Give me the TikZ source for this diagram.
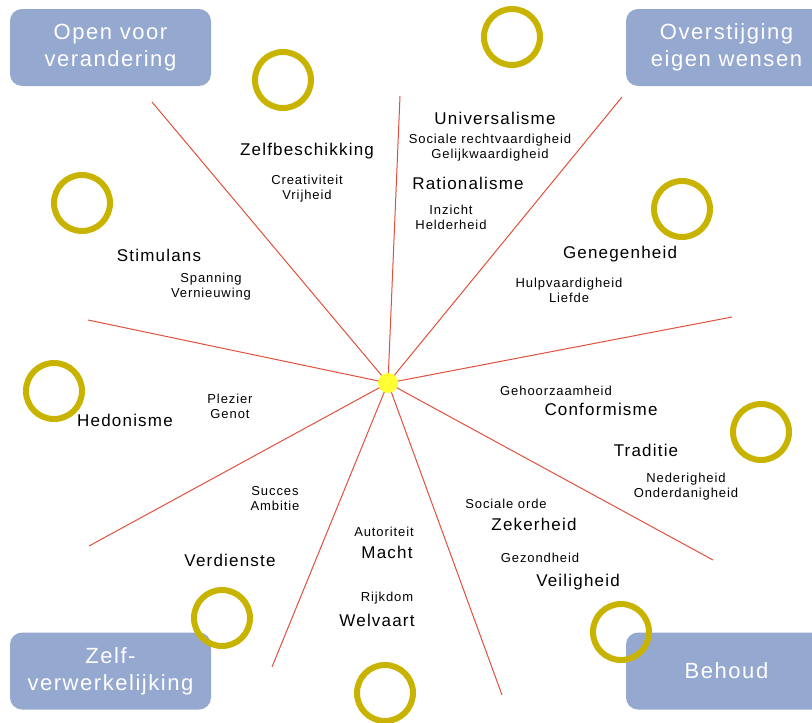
\documentclass[tikz,border=0pt]{standalone}
\usepackage{fontspec}
\setmainfont{Liberation Sans}[LetterSpace=7]
\definecolor{boxc}{HTML}{95A8CF}
\definecolor{ringc}{HTML}{C8B400}
\definecolor{linec}{HTML}{E0503C}
\definecolor{sunc}{HTML}{FFFF33}
\tikzset{
  big/.style={font=\fontsize{17}{20}\selectfont, inner sep=0pt, text=black},
  small/.style={font=\fontsize{13}{15}\selectfont, align=center, inner sep=0pt, text=black},
  catbox/.style={fill=boxc, rounded corners=12pt, text=white, font=\fontsize{22}{27}\selectfont, align=center, minimum width=201pt, minimum height=77pt, inner sep=0pt},
  ring/.style={circle, draw=ringc, line width=6pt, minimum size=56pt, inner sep=0pt},
  ray/.style={draw=linec, line width=1pt},
  sun/.style={circle, fill=sunc, minimum size=20pt, inner sep=0pt}
}
\begin{document}
\begin{tikzpicture}[x=1pt,y=-1pt]
\useasboundingbox (0,0) rectangle (812,723);
\clip (0,0) rectangle (812,723);
% boxes
\node[catbox] (b1) at (110.5,47.5) {Open voor\\verandering};
\node[catbox] (b2) at (726.5,47.5) {Overstijging\\eigen wensen};
\node[catbox] (b3) at (110.5,671) {Zelf-\\verwerkelijking};
\node[catbox] (b4) at (726.5,671) {Behoud};
% rays
\coordinate (c) at (388,383);
\coordinate (e1) at (152,102);
\coordinate (e2) at (400,96);
\coordinate (e3) at (622,97);
\coordinate (e4) at (732,317);
\coordinate (e5) at (713,560);
\coordinate (e6) at (502,695);
\coordinate (e7) at (272,667);
\coordinate (e8) at (89,546);
\coordinate (e9) at (88,320);
\foreach \e in {e1,e2,e3,e4,e5,e6,e7,e8,e9} \draw[ray] (c) -- (\e);
\node[sun] (s) at (c) {};
% rings
\node[ring] (r1) at (283,80) {};
\node[ring] (r2) at (512,37) {};
\node[ring] (r3) at (82,203) {};
\node[ring] (r4) at (682,209) {};
\node[ring] (r5) at (54,391) {};
\node[ring] (r6) at (761,432) {};
\node[ring] (r7) at (222,618) {};
\node[ring] (r8) at (621,632) {};
\node[ring] (r9) at (385,693) {};
% labels
\node[big] (l1) at (307,151) {Zelfbeschikking};
\node[small] (s1) at (307,189) {Creativiteit\\Vrijheid};
\node[big] (l2) at (159,255) {Stimulans};
\node[small] (s2) at (211,287) {Spanning\\Vernieuwing};
\node[big] (l3) at (495,118) {Universalisme};
\node[small] (s3) at (490,148) {Sociale rechtvaardigheid\\Gelijkwaardigheid};
\node[big] (l4) at (468,183) {Rationalisme};
\node[small] (s4) at (451,217.5) {Inzicht\\Helderheid};
\node[big] (l5) at (620,254) {Genegenheid};
\node[small] (s5) at (569,290.5) {Hulpvaardigheid\\Liefde};
\node[small] (s6) at (556,391) {Gehoorzaamheid};
\node[big] (l6) at (601,409) {Conformisme};
\node[big] (l7) at (646,450) {Traditie};
\node[small] (s7) at (686,487) {Nederigheid\\Onderdanigheid};
\node[big] (l8) at (125,420) {Hedonisme};
\node[small] (s8) at (230,406.5) {Plezier\\Genot};
\node[small] (s9) at (275,498.5) {Succes\\Ambitie};
\node[big] (l9) at (230,560) {Verdienste};
\node[small] (s10) at (384,532) {Autoriteit};
\node[big] (l10) at (387,552) {Macht};
\node[small] (s11) at (387,598) {Rijkdom};
\node[big] (l11) at (377,620) {Welvaart};
\node[small] (s12) at (506,504) {Sociale orde};
\node[big] (l12) at (534,524) {Zekerheid};
\node[small] (s13) at (540,558) {Gezondheid};
\node[big] (l13) at (578,582) {Veiligheid};
\end{tikzpicture}
\end{document}
